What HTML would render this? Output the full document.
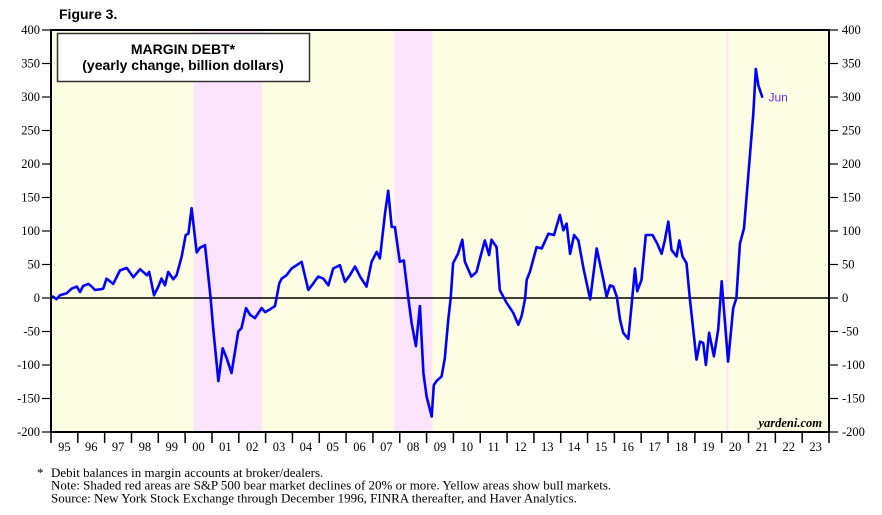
<!DOCTYPE html>
<html><head><meta charset="utf-8"><style>
body{margin:0;background:#fff;}
svg{display:block;}
</style></head><body>
<svg id="chart" width="882" height="515" xmlns="http://www.w3.org/2000/svg"></svg>
<script>
const dates=[1995.0,1995.09,1995.2,1995.33,1995.58,1995.77,1995.96,1996.08,1996.2,1996.39,1996.52,1996.64,1996.83,1996.95,1997.07,1997.32,1997.57,1997.82,1998.07,1998.32,1998.57,1998.66,1998.84,1999.0,1999.12,1999.25,1999.37,1999.56,1999.68,1999.87,2000.02,2000.12,2000.24,2000.43,2000.55,2000.74,2000.95,2001.05,2001.24,2001.4,2001.55,2001.73,2001.98,2002.1,2002.27,2002.42,2002.6,2002.85,2002.98,2003.16,2003.35,2003.51,2003.6,2003.78,2003.97,2004.16,2004.34,2004.59,2004.78,2004.96,2005.15,2005.34,2005.52,2005.77,2005.96,2006.14,2006.33,2006.52,2006.76,2006.95,2007.14,2007.26,2007.45,2007.57,2007.7,2007.82,2008.0,2008.15,2008.32,2008.44,2008.6,2008.75,2008.88,2009.0,2009.19,2009.27,2009.37,2009.56,2009.68,2009.81,2009.9,2009.99,2010.17,2010.33,2010.43,2010.67,2010.86,2010.99,2011.17,2011.33,2011.42,2011.61,2011.73,2011.86,2011.98,2012.23,2012.42,2012.54,2012.67,2012.73,2012.85,2013.1,2013.29,2013.54,2013.75,2013.97,2014.1,2014.22,2014.35,2014.5,2014.66,2014.85,2015.1,2015.34,2015.59,2015.71,2015.84,2015.96,2016.09,2016.21,2016.33,2016.52,2016.64,2016.77,2016.85,2017.01,2017.17,2017.42,2017.6,2017.76,2017.88,2018.01,2018.13,2018.32,2018.42,2018.54,2018.69,2018.81,2019.06,2019.19,2019.31,2019.41,2019.53,2019.71,2019.87,2020.0,2020.24,2020.43,2020.55,2020.68,2020.83,2021.18,2021.27,2021.37,2021.52];
const values=[2,2,-2,4,7,14,17,9,18,21,17,12,13,14,29,21,41,45,31,43,34,39,4,17,29,19,39,28,34,62,94,96,134,68,75,79,0,-47,-124,-75,-90,-112,-50,-45,-15,-25,-30,-15,-21,-17,-12,22,29,34,44,49,54,12,22,32,29,19,44,49,24,34,47,32,17,54,69,59,126,160,106,106,54,56,0,-37,-72,-12,-112,-147,-177,-130,-124,-117,-90,-32,0,52,66,87,54,32,39,59,86,64,87,76,12,2,-7,-22,-40,-27,-2,27,39,76,74,96,94,124,101,111,66,94,86,44,-2,74,27,2,19,17,2,-32,-52,-61,-12,44,10,27,94,94,81,66,86,114,72,62,86,62,52,0,-92,-65,-67,-100,-52,-87,-47,25,-95,-15,0,81,104,275,342,317,299];
const yTicks=[400,350,300,250,200,150,100,50,0,-50,-100,-150,-200];
const yearLabels=["95","96","97","98","99","00","01","02","03","04","05","06","07","08","09","10","11","12","13","14","15","16","17","18","19","20","21","22","23"];
const bearStarts=[2000.32,2007.8,2020.17];
const bearEnds=[2002.86,2009.22,2020.25];

const L=51,R=829,T=30,B=432,Y0=1995,Y1=2024,VMIN=-200,VMAX=400;
const xs=y=>L+(y-Y0)/(Y1-Y0)*(R-L);
const ys=v=>B-(v-VMIN)/(VMAX-VMIN)*(B-T);
const svg=document.getElementById('chart');
const NS='http://www.w3.org/2000/svg';
function mk(tag,attrs,parent){const e=document.createElementNS(NS,tag);for(const k in attrs)e.setAttribute(k,attrs[k]);(parent||svg).appendChild(e);return e;}
const serif='"Liberation Serif", serif', sans='"Liberation Sans", sans-serif';

let e=mk('rect',{x:L,y:T,width:R-L,height:B-T,fill:'#fdfde3'});


for(let i=0;i<bearStarts.length;i++){
  const b=mk('rect',{x:xs(bearStarts[i]),y:T,width:xs(bearEnds[i])-xs(bearStarts[i]),height:B-T,fill:'#fce4fc'});
  
  
}
e=mk('line',{x1:L,x2:R,y1:ys(0),y2:ys(0),stroke:'#000','stroke-width':1.5});



yTicks.forEach(v=>{
  const y=ys(v);
  mk('line',{x1:42,x2:L,y1:y,y2:y,stroke:'#000','stroke-width':1.2});
  mk('line',{x1:R,x2:838,y1:y,y2:y,stroke:'#000','stroke-width':1.2});
  let t=mk('text',{x:40,y:y+4,'text-anchor':'end','font-family':serif,'font-size':12.5,fill:'#000'});
  t.textContent=v;
  
  
  t=mk('text',{x:842,y:y+4,'text-anchor':'start','font-family':serif,'font-size':12.5,fill:'#000'});
  t.textContent=v;
  
  
});
for(let i=0;i<=yearLabels.length;i++){
  const x=xs(Y0+i);
  mk('line',{x1:x,x2:x,y1:B,y2:443,stroke:'#000','stroke-width':1.5});
  if(i<yearLabels.length){
    const t=mk('text',{x:xs(Y0+i+0.5),y:451,'text-anchor':'middle','font-family':serif,'font-size':12.5,fill:'#000'});
    t.textContent=yearLabels[i];
    
    
  }
}
let d='';
dates.forEach((dt,i)=>{d+=(i?'L':'M')+xs(dt).toFixed(1)+','+ys(values[i]).toFixed(1);});
e=mk('path',{d:d,fill:'none',stroke:'#0000ff','stroke-width':2.6,'stroke-linejoin':'round'});


e=mk('text',{x:xs(dates[dates.length-1])+6,y:ys(values[values.length-1])+4,'font-family':sans,'font-size':12,fill:'#6a2cff'});
e.textContent='Jun';


e=mk('rect',{x:L,y:T,width:R-L,height:B-T,fill:'none',stroke:'#000','stroke-width':2});


const g=mk('g',{});


mk('rect',{x:57.5,y:33.5,width:252,height:48,fill:'#fff',stroke:'#333','stroke-width':1.5},g);
let t=mk('text',{x:183,y:54,'text-anchor':'middle','font-family':sans,'font-weight':'bold','font-size':14,fill:'#000'},g);t.textContent='MARGIN DEBT*';
t=mk('text',{x:183,y:70,'text-anchor':'middle','font-family':sans,'font-weight':'bold','font-size':14,fill:'#000'},g);t.textContent='(yearly change, billion dollars)';
t=mk('text',{x:59,y:19,'font-family':sans,'font-weight':'bold','font-size':14,fill:'#000'});t.textContent='Figure 3.';


t=mk('text',{x:822,y:427,'text-anchor':'end','font-family':serif,'font-weight':'bold','font-style':'italic','font-size':12.5,fill:'#000'});t.textContent='yardeni.com';


t=mk('text',{x:37,y:477,'font-family':serif,'font-size':13,fill:'#000'});t.textContent='*';
const notes=['Debit balances in margin accounts at broker/dealers.','Note: Shaded red areas are S&P 500 bear market declines of 20% or more. Yellow areas show bull markets.','Source: New York Stock Exchange through December 1996, FINRA thereafter, and Haver Analytics.'];
notes.forEach((s,i)=>{const n=mk('text',{x:51,y:477+i*12.7,'font-family':serif,'font-size':13,fill:'#000'});n.textContent=s;

});
</script>
</body></html>
